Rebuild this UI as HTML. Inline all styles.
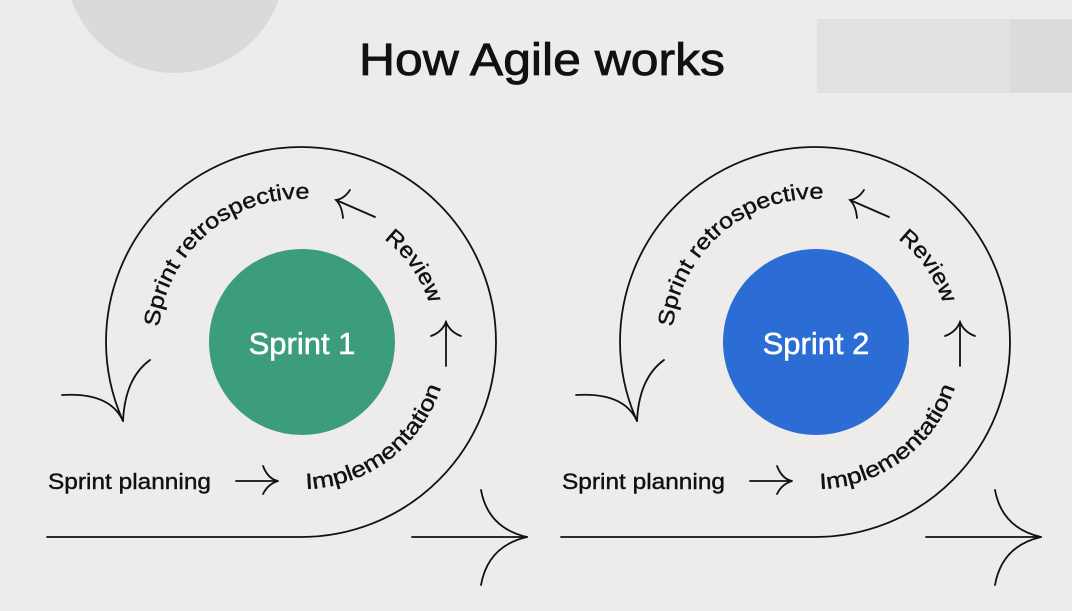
<!DOCTYPE html>
<html><head><meta charset="utf-8"><style>
html,body{margin:0;padding:0;background:#eeecea;}
svg{display:block;}
text{font-family:"Liberation Sans",sans-serif;fill:#111;}
</style></head><body>
<svg width="1072" height="611" viewBox="0 0 1072 611" xmlns="http://www.w3.org/2000/svg">
<rect width="1072" height="611" fill="#eeecea"/>
<circle cx="175" cy="-37" r="110" fill="#dcdad8"/>
<rect x="817" y="19" width="255" height="74" fill="#e3e1df"/>
<rect x="1010" y="19" width="62" height="74" fill="#dddbd9"/>
<text x="359" y="75" font-size="45" stroke="#111" stroke-width="0.8" textLength="366" lengthAdjust="spacingAndGlyphs">How Agile works</text>
<defs>
<path id="retro" d="M 159,327 A 143,143 0 0 1 340,204"/>
<path id="review" d="M 384,239 A 132,132 0 0 1 433,318"/>
<path id="impl" d="M 306,489 A 147,147 0 0 0 446,367"/>
<g id="sprint">
  <g fill="none" stroke="#111" stroke-width="1.8" stroke-linecap="round">
    <path d="M47,537 L301,537 A195,195 0 0 0 496,342 A195,195 0 0 0 301,147 A195,195 0 0 0 106,342 A195,195 0 0 0 123,421"/>
    <path d="M62,395 Q110,392 123,421"/>
    <path d="M150,360 Q125,378 123,421"/>
    <path d="M412,537 L526,537"/>
    <path d="M481,490 Q488,528 527,537"/>
    <path d="M481,585 Q488,546 527,537"/>
    <path d="M375,217 L336,200"/>
    <path d="M350,190 Q344,199 336,200 Q342,206 343,218"/>
    <path d="M446,366 L446,322"/>
    <path d="M431,336 Q442,332 446,322 Q450,332 461,336"/>
    <path d="M236,481 L278,481"/>
    <path d="M263,466 Q268,479 278,481 Q268,484 263,494"/>
  </g>
  <g stroke="#111" stroke-width="0.4">
  <text x="48" y="489" font-size="22" textLength="163" lengthAdjust="spacingAndGlyphs">Sprint planning</text>
  <text font-size="22"><textPath href="#retro" textLength="218" lengthAdjust="spacingAndGlyphs">Sprint retrospective</textPath></text>
  <text font-size="22"><textPath href="#review" textLength="80" lengthAdjust="spacingAndGlyphs">Review</textPath></text>
  <text font-size="22"><textPath href="#impl" textLength="180" lengthAdjust="spacingAndGlyphs">Implementation</textPath></text>
  </g>
</g>
</defs>
<use href="#sprint"/>
<use href="#sprint" transform="translate(514,0)"/>
<circle cx="302" cy="342" r="93" fill="#3b9d79"/>
<circle cx="816" cy="342" r="93" fill="#2b6dd4"/>
<text x="302" y="354" font-size="31" style="fill:#fff" stroke="#fff" stroke-width="0.5" text-anchor="middle">Sprint 1</text>
<text x="816" y="354" font-size="31" style="fill:#fff" stroke="#fff" stroke-width="0.5" text-anchor="middle">Sprint 2</text>
</svg>
</body></html>
